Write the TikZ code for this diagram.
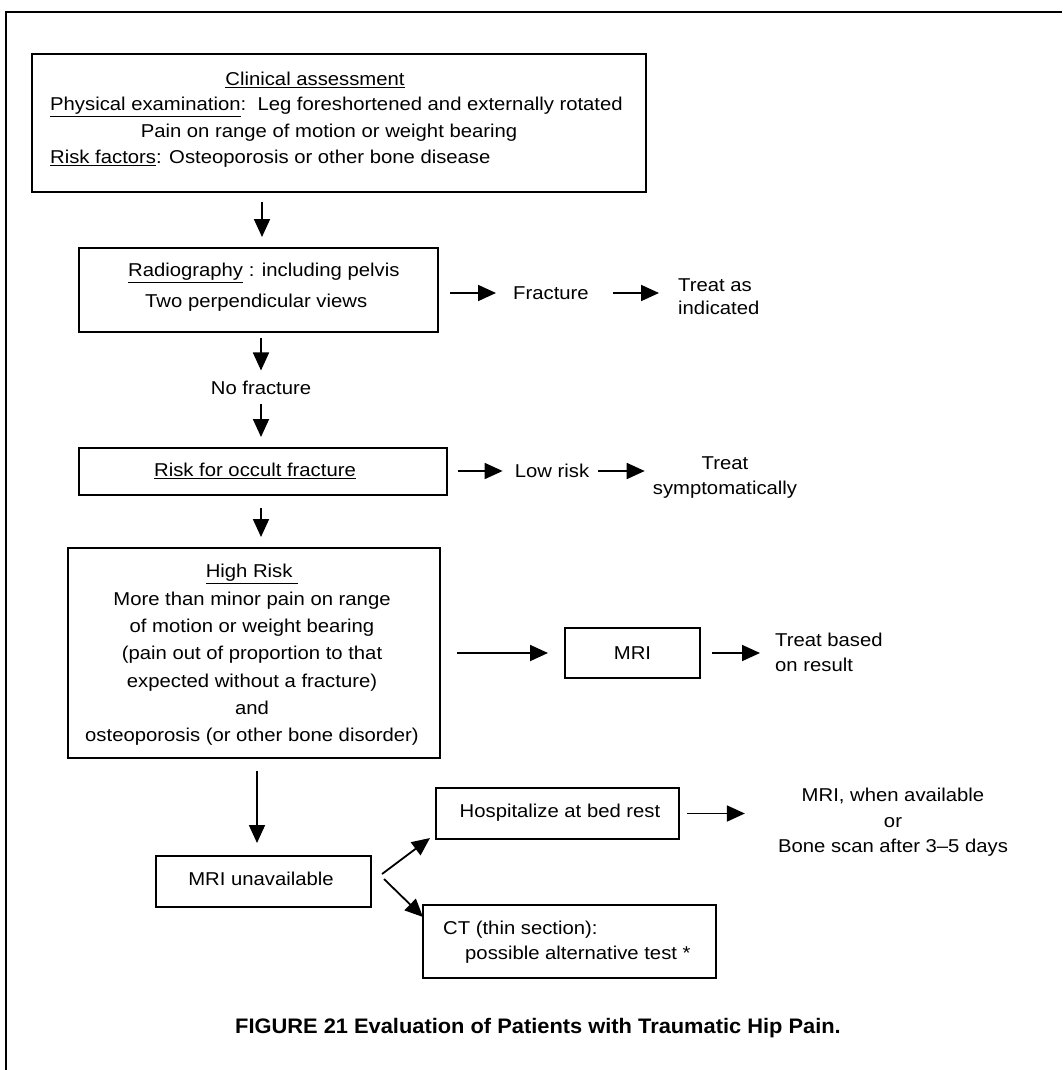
\documentclass[tikz,border=0pt]{standalone}
\usepackage{fontspec}
\setmainfont[FakeStretch=1.09]{Liberation Sans}
\newfontfamily\capfont[FakeStretch=1.04]{Liberation Sans}
\usetikzlibrary{arrows.meta}
\begin{document}
\begin{tikzpicture}[x=1pt,y=-1pt,
  frame/.style={line width=2pt},
  box/.style={draw, line width=2pt, rectangle, inner sep=0pt, outer sep=0pt},
  arr/.style={-{Triangle[length=18pt,width=16pt]}, line width=1.8pt},
  txt/.style={font=\fontsize{18.6}{25}\selectfont, inner sep=0pt},
  captxt/.style={font=\capfont\bfseries\fontsize{21}{24}\selectfont, inner sep=0pt}]
\useasboundingbox (0,0) rectangle (1062,1070);
% frame
\coordinate (ftr) at (1062,12);
\coordinate (ftl) at (6,12);
\coordinate (fbl) at (6,1070);
\draw[frame] (ftr) -- (ftl) -- (fbl);

% box 1
\node[box, minimum width=614pt, minimum height=138pt] (b1) at (339,123) {};
\node[txt] (c1) at (315,80) {\underline{Clinical assessment}};
\node[txt, anchor=west] (c2) at (50,107) {\underline{Physical examination}:\ \ Leg foreshortened and externally rotated};
\node[txt] (c3) at (329,133) {Pain on range of motion or weight bearing};
\node[txt, anchor=west] (c4) at (50,159) {\underline{Risk factors}: Osteoporosis or other bone disease};

% box 2
\node[box, minimum width=359pt, minimum height=84pt] (b2) at (258.5,290) {};
\node[txt, anchor=west] (t2a) at (128,273) {\underline{Radiography} : including pelvis};
\node[txt, anchor=west] (t2b) at (145,303) {Two perpendicular views};
\node[txt, anchor=west] (frac) at (513,293) {Fracture};
\node[txt, align=left, anchor=west, font=\fontsize{18.6}{23}\selectfont] (tai) at (678,296.5) {Treat as\\indicated};

\node[txt] (nofr) at (261,388) {No fracture};

% box 3
\node[box, minimum width=368pt, minimum height=47pt] (b3) at (263,471.5) {};
\node[txt] (t3) at (255,471) {\underline{Risk for occult fracture}};
\node[txt] (low) at (552,471) {Low risk};
\node[txt, align=center] (tsym) at (725,478) {Treat\\symptomatically};

% box 4
\node[box, minimum width=372pt, minimum height=210pt] (b4) at (254,653) {};
\node[txt, align=center, font=\fontsize{18.6}{27.3}\selectfont] (t4) at (252,655) {\underline{High Risk\ }\\More than minor pain on range\\of motion or weight bearing\\(pain out of proportion to that\\expected without a fracture)\\and\\osteoporosis (or other bone disorder)};
\node[box, minimum width=135pt, minimum height=50pt] (mri) at (632.5,653) {};
\node[txt] (tmri) at (632.5,653) {MRI};
\node[txt, align=left, anchor=west] (tbor) at (775,652.5) {Treat based\\on result};

% lower part
\node[box, minimum width=215pt, minimum height=51pt] (b5) at (263.5,881.5) {};
\node[txt] (t5) at (261,879) {MRI unavailable};
\node[box, minimum width=243pt, minimum height=51pt] (b6) at (557.5,813.5) {};
\node[txt] (t6) at (560,813) {Hospitalize at bed rest};
\node[txt, align=center, font=\fontsize{18.6}{25.5}\selectfont] (t7) at (893,822.5) {MRI, when available\\or\\Bone scan after 3–5 days};
\node[box, minimum width=293pt, minimum height=73pt] (b7) at (569.5,941.5) {};
\node[txt, anchor=west] (t8a) at (443,930) {CT (thin section):};
\node[txt, anchor=west] (t8b) at (465,955) {possible alternative test *};

% caption
\node[captxt] (cap) at (538,1028) {FIGURE 21 Evaluation of Patients with Traumatic Hip Pain.};

% arrows
\draw[arr, shorten <=10pt, shorten >=11pt] ([xshift=-77pt]b1.south) -- ([xshift=3.5pt]b2.north);
\draw[arr, shorten <=12pt, shorten >=17pt] (b2.east |- frac) -- (frac.west);
\draw[arr, shorten <=24pt, shorten >=19pt] (frac.east) -- (tai.west |- frac);
\draw[arr, shorten <=6pt, shorten >=10.5pt] ([xshift=2.5pt]b2.south) -- (nofr.north);
\draw[arr, shorten <=8.5pt, shorten >=11pt] (nofr.south) -- ([xshift=-2pt]b3.north);
\draw[arr, shorten <=11pt, shorten >=12pt] (b3.east |- low) -- (low.west);
\draw[arr, shorten <=9pt, shorten >=8pt] (low.east) -- (tsym.west |- low);
\draw[arr, shorten <=13pt, shorten >=11pt] ([xshift=-2pt]b3.south) -- ([xshift=7pt]b4.north);
\draw[arr, shorten <=17pt, shorten >=17pt] (b4.east |- mri) -- (mri.west);
\draw[arr, shorten <=12pt, shorten >=15pt] (mri.east) -- (tbor.west |- mri);
\draw[arr, shorten <=13pt, shorten >=13pt] ([xshift=3pt]b4.south) -- ([xshift=-6.5pt]b5.north);
\draw[arr, shorten <=8pt, shorten >=33pt] (b6.east) -- (t7.west |- b6.east);
\draw[arr] ([shift={(11pt,7.5pt)}]b5.east) -- ([shift={(-6pt,1pt)}]b6.south west);
\draw[arr] ([shift={(13pt,2.5pt)}]b5.east) -- ([shift={(0pt,-12pt)}]b7.north west);
\end{tikzpicture}
\end{document}
